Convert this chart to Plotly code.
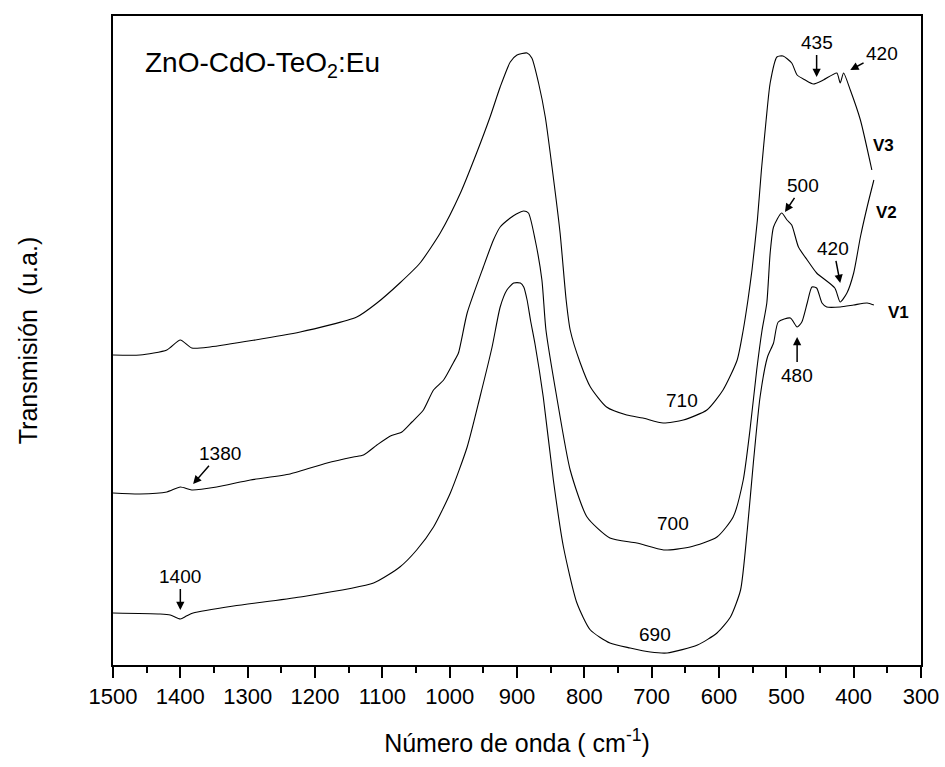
import plotly.graph_objects as go

# ---- data (wavenumber in cm^-1, transmission in arbitrary units) ----
v1_x = [1500, 1430, 1415, 1400, 1391, 1381, 1321, 1222, 1113, 1074, 1049, 1024, 999, 974, 955, 937,
        925, 915, 905, 895, 890, 885, 880, 873, 861, 846, 831, 811, 791, 762, 732, 702, 677, 632, 603,
        583, 568, 558, 549, 539, 528, 519, 512, 494, 484, 477, 469, 462, 455, 447, 440, 420, 400, 380, 370]
v1_y = [52, 51, 50, 46, 49, 52, 59, 68, 82, 98, 115, 138, 172, 218, 268, 318,
        358, 375, 382, 382, 378, 365, 345, 320, 268, 185, 118, 62, 35, 22, 17, 13, 12, 20, 32,
        48, 75, 135, 202, 268, 308, 322, 343, 347, 338, 343, 362, 378, 377, 362, 358, 358, 360, 362, 360]

v2_x = [1500, 1460, 1420, 1400, 1383, 1346, 1296, 1237, 1182, 1143, 1128, 1108, 1088, 1071, 1056, 1039,
        1024, 1009, 994, 987, 974, 950, 935, 925, 910, 901, 890, 883, 873, 863, 857, 841, 821, 796,
        762, 722, 682, 643, 603, 579, 564, 554, 544, 536, 529, 524, 519, 507, 499, 492, 482, 469,
        455, 428, 420, 410, 400, 390, 380, 370]
v2_y = [172, 171, 173, 178, 175, 178, 185, 191, 202, 208, 210, 220, 229, 233, 243, 255,
        275, 285, 303, 312, 352, 398, 425, 438, 447, 451, 454, 452, 425, 385, 335, 268, 195, 148,
        127, 122, 115, 118, 128, 148, 185, 235, 295, 335, 362, 412, 438, 452, 445, 440, 418, 405,
        392, 377, 363, 372, 392, 428, 458, 485]

v3_x = [1500, 1460, 1420, 1400, 1383, 1356, 1222, 1138, 1108, 1074, 1044, 1014, 984, 960, 940, 925,
        910, 900, 885, 878, 868, 858, 848, 836, 827, 821, 806, 791, 767, 737, 713, 683, 653, 618,
        594, 573, 564, 557, 551, 543, 537, 530, 524, 514, 505, 492, 484, 472, 460, 445, 425, 420,
        415, 405, 390, 373]
v3_y = [310, 310, 315, 325, 317, 318, 333, 348, 362, 382, 402, 432, 472, 512, 548, 578,
        603, 610, 612, 607, 582, 548, 498, 432, 365, 335, 302, 278, 258, 250, 247, 242, 245, 255,
        275, 305, 335, 365, 395, 445, 495, 545, 582, 608, 609, 602, 590, 585, 581, 585, 592, 582,
        592, 575, 545, 495]

x_ticks = [1500, 1400, 1300, 1200, 1100, 1000, 900, 800, 700, 600, 500, 400, 300]

# plain labels: (text, x, y)
band_labels = [("710", 655, 265), ("700", 668, 142), ("690", 695, 31)]
series_labels = [("V3", 356, 520), ("V2", 351, 453), ("V1", 333, 353)]
# arrow labels: (text, text_x, text_y, head_x, head_y)
arrow_labels = [
    ("435", 455, 623, 455, 588),
    ("420", 358, 612, 405, 595),
    ("500", 475, 480, 502, 453),
    ("420", 430, 417, 420, 382),
    ("480", 484, 290, 484, 328),
    ("1380", 1341, 212, 1381, 181),
    ("1400", 1400, 89, 1400, 55),
]

FONT = "Liberation Sans, Arial, sans-serif"

fig = go.Figure()
for xs, ys, name in [(v1_x, v1_y, "V1"), (v2_x, v2_y, "V2"), (v3_x, v3_y, "V3")]:
    fig.add_trace(go.Scatter(x=xs, y=ys, mode="lines", name=name,
                             line=dict(color="black", width=1.1, shape="spline", smoothing=0.6),
                             showlegend=False))

ann = []
ann.append(dict(text="ZnO-CdO-TeO<sub>2</sub>:Eu", x=1455, y=601, xref="x", yref="y",
                xanchor="left", yanchor="middle", showarrow=False,
                font=dict(family=FONT, size=28, color="black")))
for t, x, y in band_labels:
    ann.append(dict(text=t, x=x, y=y, xref="x", yref="y", showarrow=False,
                    font=dict(family=FONT, size=19, color="black")))
for t, x, y in series_labels:
    ann.append(dict(text="<b>%s</b>" % t, x=x, y=y, xref="x", yref="y", showarrow=False,
                    font=dict(family=FONT, size=17, color="black")))
for t, tx, ty, hx, hy in arrow_labels:
    ann.append(dict(text=t, x=hx, y=hy, ax=tx, ay=ty, xref="x", yref="y",
                    axref="x", ayref="y", showarrow=True, arrowhead=2, arrowsize=1.1,
                    arrowwidth=1.5, arrowcolor="black", standoff=0, startstandoff=1,
                    font=dict(family=FONT, size=19, color="black")))

fig.update_layout(
    width=945, height=767,
    margin=dict(l=113, r=24, t=16, b=102),
    paper_bgcolor="white", plot_bgcolor="white",
    annotations=ann,
    xaxis=dict(range=[1500, 300], tickvals=x_ticks, ticktext=[str(v) for v in x_ticks],
               ticks="outside", ticklen=11, tickwidth=2, tickcolor="black",
               minor=dict(ticks="outside", ticklen=6, tickwidth=2, dtick=50, tickcolor="black"),
               showline=True, linewidth=2, linecolor="black", mirror=True,
               showgrid=False, zeroline=False, automargin=False,
               tickfont=dict(family=FONT, size=22, color="black"),
               title=dict(text="Número de onda ( cm<sup>-1</sup>)", standoff=26,
                          font=dict(family=FONT, size=25, color="black"))),
    yaxis=dict(range=[0, 649], showticklabels=False, ticks="",
               showline=True, linewidth=2, linecolor="black", mirror=True,
               showgrid=False, zeroline=False, automargin=False,
               title=dict(text="Transmisión\u00a0\u00a0(u.a.)", standoff=66,
                          font=dict(family=FONT, size=25, color="black"))),
)

fig.write_html("out.html", config={"displayModeBar": False},
               post_script="document.body.style.margin='0';document.body.style.overflow='hidden';")
